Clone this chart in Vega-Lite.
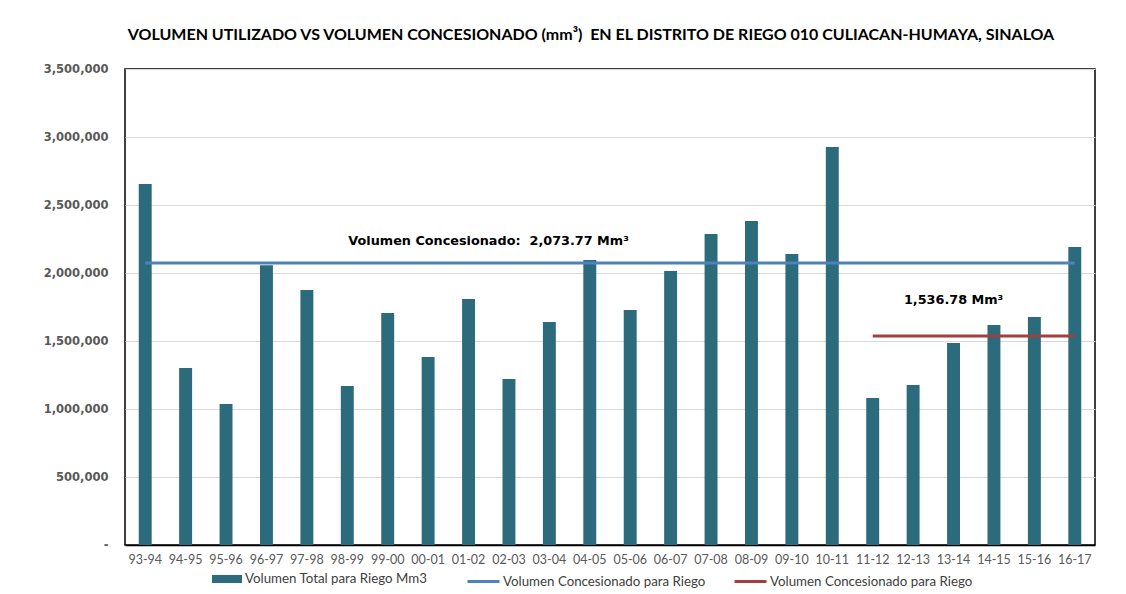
{
  "$schema": "https://vega.github.io/schema/vega-lite/v6.json",
  "width": 970,
  "height": 476,
  "autosize": {"type": "none"},
  "padding": {"left": 125, "top": 69, "right": 31, "bottom": 49},
  "background": "white",
  "title": {
    "text": "VOLUMEN UTILIZADO VS VOLUMEN CONCESIONADO (mm³)\u00a0 EN EL DISTRITO DE RIEGO 010 CULIACAN-HUMAYA, SINALOA",
    "font": "Lato",
    "fontSize": 16,
    "fontWeight": "bold",
    "color": "#000000",
    "anchor": "middle",
    "dx": -19,
    "offset": 20
  },
  "config": {
    "view": {"stroke": "#000000", "strokeWidth": 1.5},
    "axis": {"titleFontSize": 0}
  },
  "datasets": {
    "bars": [
      {"season": "93-94", "value": 2654000, "serie": "Volumen Total para Riego Mm3"},
      {"season": "94-95", "value": 1301000, "serie": "Volumen Total para Riego Mm3"},
      {"season": "95-96", "value": 1037000, "serie": "Volumen Total para Riego Mm3"},
      {"season": "96-97", "value": 2057000, "serie": "Volumen Total para Riego Mm3"},
      {"season": "97-98", "value": 1875000, "serie": "Volumen Total para Riego Mm3"},
      {"season": "98-99", "value": 1169000, "serie": "Volumen Total para Riego Mm3"},
      {"season": "99-00", "value": 1706000, "serie": "Volumen Total para Riego Mm3"},
      {"season": "00-01", "value": 1382000, "serie": "Volumen Total para Riego Mm3"},
      {"season": "01-02", "value": 1809000, "serie": "Volumen Total para Riego Mm3"},
      {"season": "02-03", "value": 1221000, "serie": "Volumen Total para Riego Mm3"},
      {"season": "03-04", "value": 1640000, "serie": "Volumen Total para Riego Mm3"},
      {"season": "04-05", "value": 2096000, "serie": "Volumen Total para Riego Mm3"},
      {"season": "05-06", "value": 1728000, "serie": "Volumen Total para Riego Mm3"},
      {"season": "06-07", "value": 2015000, "serie": "Volumen Total para Riego Mm3"},
      {"season": "07-08", "value": 2287000, "serie": "Volumen Total para Riego Mm3"},
      {"season": "08-09", "value": 2382000, "serie": "Volumen Total para Riego Mm3"},
      {"season": "09-10", "value": 2140000, "serie": "Volumen Total para Riego Mm3"},
      {"season": "10-11", "value": 2926000, "serie": "Volumen Total para Riego Mm3"},
      {"season": "11-12", "value": 1081000, "serie": "Volumen Total para Riego Mm3"},
      {"season": "12-13", "value": 1176000, "serie": "Volumen Total para Riego Mm3"},
      {"season": "13-14", "value": 1485000, "serie": "Volumen Total para Riego Mm3"},
      {"season": "14-15", "value": 1618000, "serie": "Volumen Total para Riego Mm3"},
      {"season": "15-16", "value": 1676000, "serie": "Volumen Total para Riego Mm3"},
      {"season": "16-17", "value": 2191000, "serie": "Volumen Total para Riego Mm3"}
    ],
    "lines": [
      {"season": "93-94", "value": 2073770, "serie": "Volumen Concesionado para Riego"},
      {"season": "16-17", "value": 2073770, "serie": "Volumen Concesionado para Riego"},
      {"season": "11-12", "value": 1536780, "serie": "Volumen Concesionado para Riego "},
      {"season": "16-17", "value": 1536780, "serie": "Volumen Concesionado para Riego "}
    ],
    "notes": [
      {"season": "01-02", "value": 2073770, "label": "Volumen Concesionado:\u00a0 2,073.77 Mm³", "pos": "a"},
      {"season": "13-14", "value": 1536780, "label": "1,536.78 Mm³", "pos": "b"}
    ]
  },
  "encoding": {
    "x": {
      "field": "season",
      "type": "ordinal",
      "sort": null,
      "scale": {"paddingInner": 0.68, "paddingOuter": 0.34},
      "axis": {
        "title": null,
        "labelAngle": 0,
        "labelFont": "Lato",
        "labelFontSize": 12.5,
        "labelColor": "#595959",
        "labelPadding": 8,
        "ticks": false,
        "domainColor": "#000000",
        "domainWidth": 1.5
      }
    },
    "y": {
      "field": "value",
      "type": "quantitative",
      "scale": {"domain": [0, 3500000], "nice": false},
      "axis": {
        "title": null,
        "values": [0, 500000, 1000000, 1500000, 2000000, 2500000, 3000000, 3500000],
        "labelExpr": "datum.value == 0 ? '-' : format(datum.value, ',')",
        "labelFont": "DejaVu Sans",
        "labelFontSize": 11.5,
        "labelFontWeight": "bold",
        "labelColor": "#595959",
        "labelPadding": 17,
        "ticks": false,
        "domain": false,
        "grid": true,
        "gridColor": "#d9d9d9",
        "gridWidth": 1
      }
    }
  },
  "layer": [
    {
      "data": {"name": "bars"},
      "mark": {"type": "bar"},
      "encoding": {
        "fill": {
          "field": "serie",
          "type": "nominal",
          "scale": {"range": ["#2b6b7b"]},
          "legend": {
            "title": null,
            "orient": "none",
            "legendX": 87,
            "legendY": 495,
            "direction": "horizontal",
            "symbolType": "M-1,-0.27H1V0.27H-1Z",
            "symbolSize": 900,
            "symbolStrokeWidth": 0,
            "labelFont": "Lato",
            "labelFontSize": 13.3,
            "labelColor": "#404040",
            "labelOffset": 3,
            "labelLimit": 400
          }
        }
      }
    },
    {
      "data": {"name": "lines"},
      "mark": {"type": "line", "strokeWidth": 3},
      "encoding": {
        "stroke": {
          "field": "serie",
          "type": "nominal",
          "scale": {"domain": ["Volumen Concesionado para Riego", "Volumen Concesionado para Riego "], "range": ["#4f81bd", "#a0413f"]},
          "legend": {
            "title": null,
            "orient": "none",
            "legendX": 341,
            "legendY": 495,
            "direction": "horizontal",
            "symbolType": "stroke",
            "symbolSize": 1024,
            "symbolStrokeWidth": 3,
            "labelFont": "Lato",
            "labelFontSize": 13.3,
            "labelColor": "#404040",
            "labelOffset": 2,
            "labelLimit": 400,
            "columnPadding": 22
          }
        }
      }
    },
    {
      "data": {"name": "notes"},
      "transform": [{"filter": "datum.pos == 'a'"}],
      "mark": {"type": "text", "font": "DejaVu Sans", "fontSize": 12.8, "fontWeight": "bold", "color": "#000000", "dy": -22, "dx": 20, "baseline": "middle"},
      "encoding": {"text": {"field": "label"}}
    },
    {
      "data": {"name": "notes"},
      "transform": [{"filter": "datum.pos == 'b'"}],
      "mark": {"type": "text", "font": "DejaVu Sans", "fontSize": 12.8, "fontWeight": "bold", "color": "#000000", "dy": -36, "baseline": "middle"},
      "encoding": {"text": {"field": "label"}}
    }
  ]
}
